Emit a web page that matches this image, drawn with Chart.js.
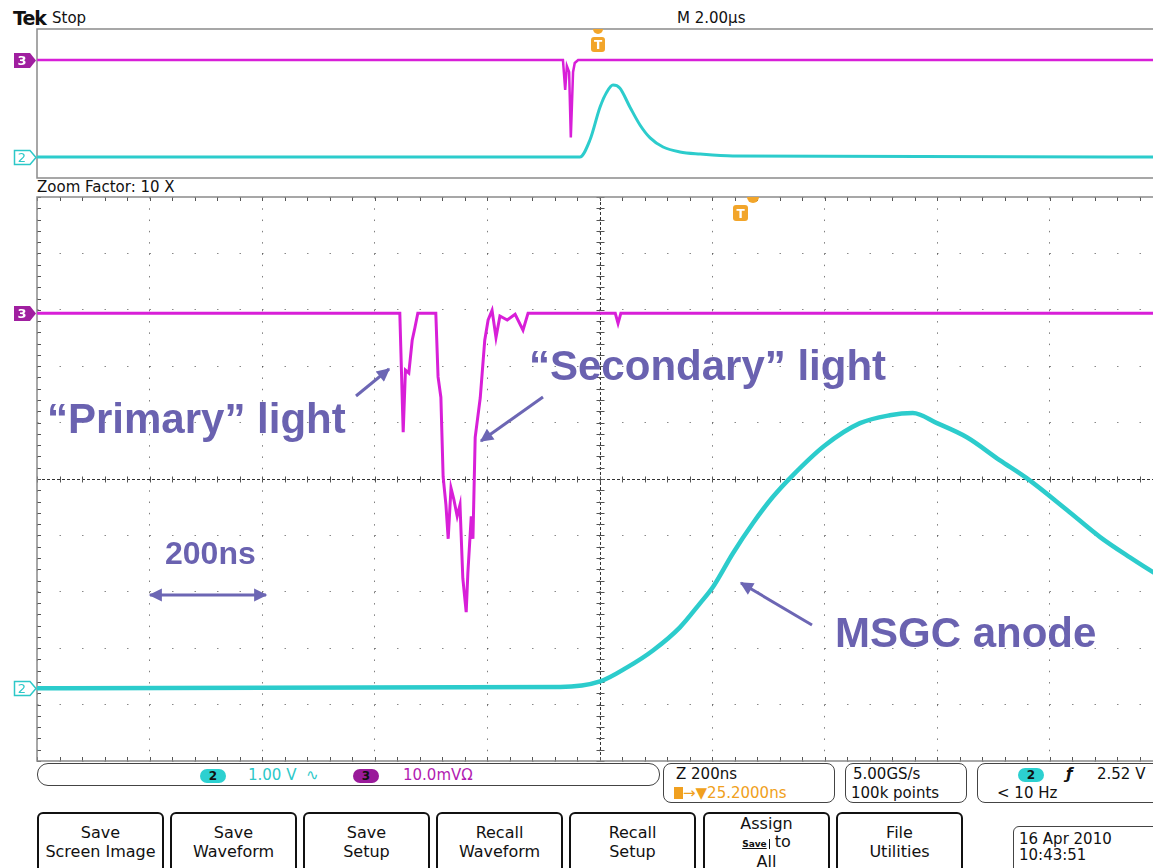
<!DOCTYPE html>
<html>
<head>
<meta charset="utf-8">
<title>MSGC scope capture</title>
<script src="https://cdn.jsdelivr.net/npm/chart.js@4.4.1/dist/chart.umd.min.js"></script>
<style>
  html, body { margin: 0; padding: 0; }
  body { width: 1153px; height: 868px; overflow: hidden; position: relative; background: #fff;
         font-family: "DejaVu Sans", sans-serif; color: #111; }
  .abs { position: absolute; white-space: nowrap; line-height: 1; }
  .panel { position: absolute; }
  .note { position: absolute; font-family: "Liberation Sans", Arial, sans-serif; font-weight: bold;
          font-size: 42px; line-height: 1; color: #6a62b0; white-space: nowrap; z-index: 4; }
  .box { position: absolute; border: 1.5px solid #444; border-radius: 8px; box-sizing: border-box; background: #fff; }
  .btn { position: absolute; top: 812px; width: 127px; height: 70px; border: 2px solid #111; border-radius: 6px;
         box-sizing: border-box; text-align: center; font-size: 16px; line-height: 19px; padding-top: 9px; }
  .pill { display: inline-block; width: 26px; height: 14px; border-radius: 7px; text-align: center;
          font-size: 12px; font-weight: bold; line-height: 14px; color: #111; }
  .overlay { position: absolute; left: 0; top: 0; z-index: 5; pointer-events: none; }
</style>
</head>
<body>

<div class="abs" style="left:13px;top:9px;font-size:19px;font-weight:bold;letter-spacing:-1px;">Tek</div>
<div class="abs" style="left:52px;top:11px;font-size:15px;">Stop</div>
<div class="abs" style="left:677px;top:11px;font-size:15px;">M 2.00μs</div>
<div class="abs" style="left:37px;top:180px;font-size:15px;">Zoom Factor: 10 X</div>

<div class="panel" style="left:35px;top:27px;width:1127px;height:153px;">
  <canvas id="overview" width="1127" height="153"></canvas>
</div>
<div class="panel" style="left:35px;top:195px;width:1127px;height:568px;">
  <canvas id="zoom" width="1127" height="568"></canvas>
</div>

<div class="note" style="left:47px;top:398px;">“Primary” light</div>
<div class="note" style="left:529px;top:345px;">“Secondary” light</div>
<div class="note" style="left:835px;top:612px;">MSGC anode</div>
<div class="note" style="left:165px;top:537px;font-size:32px;">200ns</div>

<svg class="overlay" width="1153" height="868">
  <defs>
    <marker id="ah" viewBox="0 0 10 10" refX="9" refY="5" markerWidth="5" markerHeight="4.4" orient="auto-start-reverse">
      <path d="M0,0 L10,5 L0,10 z" fill="#6c66b4"/>
    </marker>
  </defs>
  <line x1="356" y1="396" x2="389" y2="369" stroke="#6c66b4" stroke-width="3" marker-end="url(#ah)"/>
  <line x1="543" y1="397" x2="481" y2="441" stroke="#6c66b4" stroke-width="3" marker-end="url(#ah)"/>
  <line x1="150" y1="595" x2="266" y2="595" stroke="#6c66b4" stroke-width="3" marker-start="url(#ah)" marker-end="url(#ah)"/>
  <line x1="812" y1="625" x2="741" y2="583" stroke="#6c66b4" stroke-width="3" marker-end="url(#ah)"/>

  <!-- channel ground markers -->
  <path d="M14,53 h16 l6,7.5 l-6,7.5 h-16 z" fill="#a01fa0"/>
  <text x="22" y="65" font-size="13" font-weight="bold" fill="#fff" text-anchor="middle" font-family="DejaVu Sans">3</text>
  <path d="M14.5,150.5 h15.5 l6,7 l-6,7 h-15.5 z" fill="#fff" stroke="#2cc8c8" stroke-width="1.5"/>
  <text x="22" y="162" font-size="13" fill="#2cc8c8" text-anchor="middle" font-family="DejaVu Sans">2</text>
  <path d="M14,306 h16 l6,7.5 l-6,7.5 h-16 z" fill="#a01fa0"/>
  <text x="22" y="318" font-size="13" font-weight="bold" fill="#fff" text-anchor="middle" font-family="DejaVu Sans">3</text>
  <path d="M14.5,681.5 h15.5 l6,7 l-6,7 h-15.5 z" fill="#fff" stroke="#2cc8c8" stroke-width="1.5"/>
  <text x="22" y="693" font-size="13" fill="#2cc8c8" text-anchor="middle" font-family="DejaVu Sans">2</text>

  <!-- trigger markers -->
  <path d="M593,29 a5,5 0 0 0 10,0 z" fill="#f2a52a"/>
  <rect x="591" y="37" width="14" height="15" rx="3" fill="#f2a52a"/>
  <text x="598" y="49" font-size="12" font-weight="bold" fill="#fff" text-anchor="middle" font-family="DejaVu Sans">T</text>
  <path d="M747,197 a6,6 0 0 0 12,0 z" fill="#f2a52a"/>
  <rect x="733" y="205" width="15" height="16" rx="3" fill="#f2a52a"/>
  <text x="740.5" y="218" font-size="12" font-weight="bold" fill="#fff" text-anchor="middle" font-family="DejaVu Sans">T</text>
</svg>

<!-- readout bar -->
<div class="box" style="left:37px;top:763px;width:623px;height:23px;border-radius:11px;"></div>
<div class="abs" style="left:200px;top:767px;"><span class="pill" style="background:#2cd0d0;">2</span></div>
<div class="abs" style="left:248px;top:768px;font-size:15px;color:#2cc8c8;">1.00 V&nbsp;&nbsp;∿</div>
<div class="abs" style="left:353px;top:767px;"><span class="pill" style="background:#9a1a9a;">3</span></div>
<div class="abs" style="left:403px;top:768px;font-size:15px;color:#b21cb2;">10.0mVΩ</div>

<div class="box" style="left:663px;top:763px;width:172px;height:40px;"></div>
<div class="abs" style="left:676px;top:767px;font-size:15px;">Z 200ns</div>
<div class="abs" style="left:674px;top:786px;font-size:15px;color:#f0a020;"><span style="display:inline-block;width:9px;height:12px;background:#f0a020;vertical-align:-1px;"></span>→▼25.2000ns</div>

<div class="box" style="left:845px;top:763px;width:122px;height:40px;"></div>
<div class="abs" style="left:853px;top:767px;font-size:15px;">5.00GS/s</div>
<div class="abs" style="left:851px;top:786px;font-size:15px;">100k points</div>

<div class="box" style="left:977px;top:763px;width:200px;height:40px;"></div>
<div class="abs" style="left:1018px;top:766px;"><span class="pill" style="background:#2cd0d0;">2</span></div>
<div class="abs" style="left:1066px;top:767px;font-size:15px;font-style:italic;font-weight:bold;">ƒ</div>
<div class="abs" style="left:1097px;top:767px;font-size:15px;">2.52 V</div>
<div class="abs" style="left:997px;top:786px;font-size:15px;">&lt; 10 Hz</div>

<!-- soft buttons -->
<div class="btn" style="left:37px;">Save<br>Screen Image</div>
<div class="btn" style="left:170px;">Save<br>Waveform</div>
<div class="btn" style="left:303px;">Save<br>Setup</div>
<div class="btn" style="left:436px;">Recall<br>Waveform</div>
<div class="btn" style="left:569px;">Recall<br>Setup</div>
<div class="btn" style="left:703px;padding-top:1px;line-height:18px;">Assign<br><span style="font-size:9px;font-weight:bold;text-decoration:underline;border-right:1px solid #111;padding-right:2px;">Save</span> to<br>All</div>
<div class="btn" style="left:836px;">File<br>Utilities</div>
<div class="box" style="left:1013px;top:826px;width:160px;height:50px;border-radius:6px;"></div>
<div class="abs" style="left:1019px;top:832px;font-size:15px;">16 Apr 2010</div>
<div class="abs" style="left:1019px;top:848px;font-size:15px;">10:43:51</div>

<script>
// overview record, M 2.00us/div
const ovCh3TimeUs = [0, 9.35, 9.39, 9.42, 9.46, 9.49, 9.53, 9.56, 9.62, 20];
const ovCh3MilliVolts = [0, 0, -20, -4, -8, -52, -8, -2, 0, 0];
const ovCh2TimeUs = [0, 9.65, 9.83, 10.01, 10.13, 10.24, 10.36, 10.54, 10.72, 10.90, 11.13, 11.43, 11.79, 12.37, 20];
const ovCh2Volts = [0, 0, 1.14, 3.36, 4.36, 4.83, 4.63, 3.36, 2.15, 1.28, 0.67, 0.34, 0.20, 0.07, 0];

// zoomed window, Z 200ns/div
const zmCh3TimeNs = [0, 645, 651, 655, 661, 667, 672, 677, 709, 713, 718, 722, 727, 731, 736, 741, 747, 752,
  757, 763, 766, 772, 775, 779, 788, 796, 802, 809, 816, 823, 836, 850, 864, 873, 1028, 1033, 1038, 2000];
const zmCh3MilliVolts = [0, 0, -21.1, -10.1, -10.6, -4.8, -2.5, 0, 0, -11.3, -14.9, -29, -34, -40, -31, -33, -36, -34,
  -47, -53, -46, -36, -40, -22, -15, -4.8, -1.2, 0.5, -4.3, -0.5, -1.2, -0.2, -3, 0, 0, -1.8, 0, 0];
const zmCh2TimeNs = [0, 930, 1001, 1049, 1095, 1143, 1179, 1202, 1237, 1273, 1308, 1344, 1400,
  1463, 1516, 1557, 1600, 1653, 1712, 1760, 1831, 1890, 1943, 1984, 2000];
const zmCh2Volts = [0, 0.02, 0.12, 0.37, 0.67, 1.08, 1.51, 1.80, 2.39, 2.93, 3.39, 3.78, 4.30,
  4.70, 4.84, 4.88, 4.70, 4.45, 4.04, 3.72, 3.16, 2.68, 2.32, 2.06, 1.97];

const CH2_COLOR = "#2ccccc";
const CH3_COLOR = "#d81fd8";

function trace(xs, ys, axis, color, width, smooth) {
  return {
    data: xs.map((t, i) => ({ x: t, y: ys[i] })),
    yAxisID: axis,
    borderColor: color,
    borderWidth: width,
    pointRadius: 0,
    fill: false,
    cubicInterpolationMode: smooth ? "monotone" : "default",
    tension: 0
  };
}

// frame, centre crosshair and minor ticks of the scope graticule
const tekFrame = {
  id: "tekFrame",
  beforeDatasetsDraw(chart, args, opts) {
    const { ctx, chartArea: a, scales } = chart;
    ctx.save();
    if (opts.crosshair) {
      const xs = scales.x, ys = scales.y;
      const cx = Math.round(xs.getPixelForValue(opts.cx)) + 0.5;
      const cy = Math.round(ys.getPixelForValue(opts.cy)) + 0.5;
      ctx.strokeStyle = "#333";
      ctx.lineWidth = 1;
      ctx.setLineDash([3, 2]);
      ctx.beginPath();
      ctx.moveTo(cx, a.top); ctx.lineTo(cx, a.bottom);
      ctx.moveTo(a.left, cy); ctx.lineTo(a.right, cy);
      ctx.stroke();
      ctx.setLineDash([]);
      ctx.strokeStyle = "#555";
      ctx.beginPath();
      const nx = Math.round((xs.max - xs.min) / opts.xMinor);
      for (let i = 0; i <= nx; i++) {
        const px = Math.round(xs.getPixelForValue(xs.min + i * opts.xMinor)) + 0.5;
        ctx.moveTo(px, cy - 3); ctx.lineTo(px, cy + 3);
        ctx.moveTo(px, a.top); ctx.lineTo(px, a.top + 4);
        ctx.moveTo(px, a.bottom); ctx.lineTo(px, a.bottom - 4);
      }
      const ny = Math.round((ys.max - ys.min) / opts.yMinor);
      for (let i = 0; i <= ny; i++) {
        const py = Math.round(ys.getPixelForValue(ys.min + i * opts.yMinor)) + 0.5;
        ctx.moveTo(cx - 4, py); ctx.lineTo(cx + 4, py);
        ctx.moveTo(a.left, py); ctx.lineTo(a.left + 4, py);
      }
      ctx.stroke();
    }
    ctx.strokeStyle = opts.frame;
    ctx.lineWidth = 1.5;
    ctx.strokeRect(a.left, a.top, a.width, a.height);
    ctx.restore();
  }
};

const common = {
  responsive: false,
  animation: false,
  devicePixelRatio: 1,
  layout: { padding: { left: 2, top: 2, right: 0, bottom: 2 } },
  plugins: { legend: { display: false }, tooltip: { enabled: false } }
};

new Chart(document.getElementById("overview"), {
  type: "line",
  data: {
    datasets: [
      trace(ovCh3TimeUs, ovCh3MilliVolts, "ch3", CH3_COLOR, 2.5, false),
      trace(ovCh2TimeUs, ovCh2Volts, "ch2", CH2_COLOR, 3, true)
    ]
  },
  options: {
    ...common,
    plugins: { ...common.plugins, tekFrame: { frame: "#8a8a8a", crosshair: false } },
    scales: {
      x: { type: "linear", min: 0, max: 20, display: false },
      ch2: { axis: "y", type: "linear", display: false, min: -1.41, max: 8.59 },
      ch3: { axis: "y", type: "linear", display: false, min: -79.2, max: 20.8 }
    }
  },
  plugins: [tekFrame]
});

new Chart(document.getElementById("zoom"), {
  type: "line",
  data: {
    datasets: [
      trace(zmCh3TimeNs, zmCh3MilliVolts, "ch3", CH3_COLOR, 3, false),
      trace(zmCh2TimeNs, zmCh2Volts, "ch2", CH2_COLOR, 4.5, true)
    ]
  },
  options: {
    ...common,
    plugins: { ...common.plugins, tekFrame: { frame: "#8a8a8a", crosshair: true, cx: 1000, cy: 5, xMinor: 40, yMinor: 0.2 } },
    scales: {
      x: {
        type: "linear", min: 0, max: 2000,
        ticks: { display: false, stepSize: 200 },
        grid: { color: "rgba(40,40,40,0.6)", drawTicks: false },
        border: { display: false, dash: [1.5, 9.78] }
      },
      y: {
        type: "linear", min: 0, max: 10,
        ticks: { display: false, stepSize: 1 },
        grid: { color: "rgba(40,40,40,0.55)", drawTicks: false },
        border: { display: false, dash: [1.5, 21] }
      },
      ch2: { axis: "y", type: "linear", display: false, min: -1.29, max: 8.71 },
      ch3: { axis: "y", type: "linear", display: false, min: -79.4, max: 20.6 }
    }
  },
  plugins: [tekFrame]
});
</script>
</body>
</html>
